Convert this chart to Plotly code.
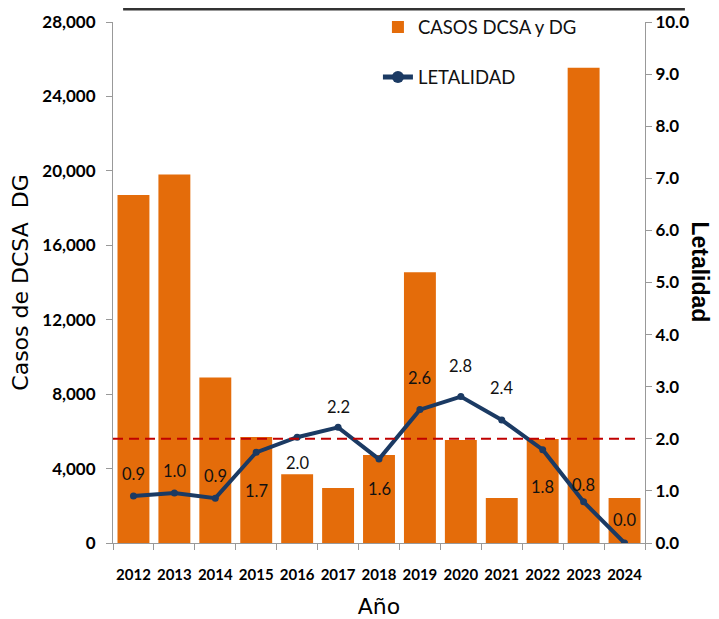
import plotly.graph_objects as go

years = ["2012", "2013", "2014", "2015", "2016", "2017", "2018",
         "2019", "2020", "2021", "2022", "2023", "2024"]
casos = [18700, 19800, 8900, 5700, 3700, 2950, 4730,
         14550, 5540, 2420, 5590, 25540, 2420]
letalidad = [0.90, 0.96, 0.86, 1.74, 2.03, 2.22, 1.61,
             2.56, 2.81, 2.36, 1.79, 0.79, 0.0]
umbral = 2.0

left_ticks = [0, 4000, 8000, 12000, 16000, 20000, 24000, 28000]
right_ticks = [0, 1, 2, 3, 4, 5, 6, 7, 8, 9, 10]

# label vertical offsets in pixels (style only)
label_shift = [22, 22, 22, -39, -26, 20, -30, 32, 31, 32, -37, 17, 23]

ORANGE = "#E46C0A"
NAVY = "#1B3A63"
NARROW = "Lato, Roboto, sans-serif"
TITLEF = "DejaVu Sans, sans-serif"

fig = go.Figure()
fig.add_trace(go.Bar(
    x=years, y=casos, name="CASOS DCSA y DG", legendgroup="a",
    marker=dict(color=ORANGE, line=dict(width=0)),
    yaxis="y",
))
fig.add_trace(go.Scatter(
    x=years, y=letalidad, name="LETALIDAD", mode="lines+markers",
    legendgroup="b",
    line=dict(color=NAVY, width=4),
    marker=dict(color=NAVY, size=7),
    yaxis="y2",
))

for i, (v, s) in enumerate(zip(letalidad, label_shift)):
    fig.add_annotation(
        x=i, y=v, xref="x", yref="y2", text=f"{v:.1f}",
        showarrow=False, yshift=s,
        font=dict(family=NARROW, size=16.5, color="#111111"),
    )

fig.add_shape(type="line", xref="paper", yref="y2", x0=0, x1=0.99,
              y0=umbral, y1=umbral,
              line=dict(color="#C00000", width=2, dash="10px,6px"))
fig.add_shape(type="line", xref="paper", yref="paper", x0=0.019, x1=1.075,
              y0=1.025, y1=1.025, line=dict(color="#333333", width=3))

fig.add_annotation(xref="paper", yref="paper", x=1.131, y=0.52,
                   text="Letalidad", textangle=90, showarrow=False,
                   font=dict(family="Liberation Sans, Arial, sans-serif",
                             size=23, color="black", weight="bold"))

fig.update_layout(
    width=711, height=611,
    margin=dict(l=105, r=74, t=14, b=76, autoexpand=False),
    plot_bgcolor="white", paper_bgcolor="white",
    bargap=0.22,
    showlegend=True,
    legend=dict(x=0.498, y=1.026, xanchor="left", yanchor="top",
                font=dict(family=NARROW, size=18.5, color="#111111"),
                bgcolor="rgba(0,0,0,0)", tracegroupgap=23,
                itemsizing="constant"),
    xaxis=dict(
        type="category", range=[-0.5, 12.5],
        tickson="boundaries", ticks="outside", ticklen=6, tickangle=0,
        tickcolor="#999999", showline=True, linecolor="#999999", linewidth=1,
        ticklabelstandoff=18,
        tickfont=dict(family=NARROW, size=15, color="black", weight="bold"),
        title=dict(text="Año", font=dict(family=TITLEF, size=22, color="black"),
                   standoff=17),
        showgrid=False,
    ),
    yaxis=dict(
        range=[0, 28000], tickvals=left_ticks,
        ticktext=[f"{t:,}" for t in left_ticks],
        ticks="outside", ticklen=6, tickcolor="#999999",
        ticklabelstandoff=7,
        showline=True, linecolor="#999999", linewidth=1, showgrid=False,
        zeroline=False,
        tickfont=dict(family=NARROW, size=17, color="black", weight="bold"),
        title=dict(text="Casos de DCSA  DG",
                   font=dict(family=TITLEF, size=22, color="black"),
                   standoff=15),
    ),
    yaxis2=dict(
        range=[0, 10], tickvals=right_ticks,
        ticktext=[f"{t:.1f}" for t in right_ticks],
        overlaying="y", side="right",
        ticks="outside", ticklen=6, tickcolor="#999999",
        showline=True, linecolor="#999999", linewidth=1, showgrid=False,
        zeroline=False,
        tickfont=dict(family=NARROW, size=17, color="black", weight="bold"),
    ),
)

fig.write_html("out.html")
